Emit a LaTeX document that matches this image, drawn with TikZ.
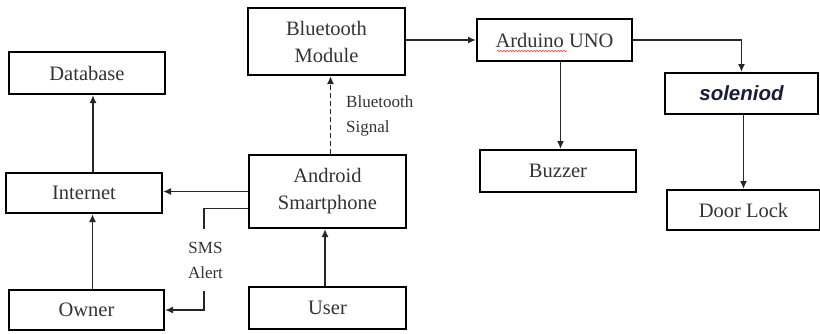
\documentclass[tikz,border=0pt]{standalone}
\usepackage{fontspec}
\setmainfont{Liberation Serif}
\newfontfamily\solfont{Liberation Sans}
\usetikzlibrary{arrows.meta,decorations.pathmorphing}
\begin{document}
\begin{tikzpicture}[x=1pt,y=1pt,
  box/.style={draw, line width=2pt, inner sep=0pt, align=center,
    font=\fontsize{20.5}{27}\selectfont, text=black!80},
  arr/.style={line width=1.7pt, -{Latex[length=8pt,width=7pt]}, black!85},
  lbl/.style={align=left, font=\fontsize{17}{25}\selectfont, text=black!80, inner sep=0pt}]
\useasboundingbox (0,0) rectangle (820,-333);
\node[box, minimum width=156pt, minimum height=42pt] (db) at (87,-73) {Database};
\node[box, minimum width=157pt, minimum height=67pt] (bt) at (326.5,-41.5) {Bluetooth\\Module};
\node[box, minimum width=155pt, minimum height=42pt] (ard) at (554.5,-40) {Arduino UNO};
\node[box, minimum width=153pt, minimum height=41pt] (sol) at (741.5,-93.5)
  {\solfont\bfseries\itshape\color[HTML]{1C1C3A}soleniod};
\node[box, minimum width=156pt, minimum height=42pt] (buz) at (558,-171) {Buzzer};
\node[box, minimum width=153pt, minimum height=40pt] (door) at (743.5,-210) {Door Lock};
\node[box, minimum width=156pt, minimum height=40pt] (inet) at (84,-193) {Internet};
\node[box, minimum width=157pt, minimum height=73pt] (and) at (327.5,-191.5) {Android\\Smartphone};
\node[box, minimum width=155pt, minimum height=40pt] (own) at (86.5,-310) {Owner};
\node[box, minimum width=157pt, minimum height=42pt] (user) at (327.5,-308) {User};
% spell-check underline
\coordinate (w1) at (497,-51);
\coordinate (w2) at (567,-51);
\draw[red!75, line width=0.6pt, decorate, decoration={snake, amplitude=0.8pt, segment length=3pt}] (w1) -- (w2);
% connectors
\draw[arr] (bt.east |- ard.west) -- (ard.west);
\draw[arr] (ard.east) -| (sol.north);
\draw[arr] ([xshift=6pt]ard.south) -- ([xshift=6pt]ard.south |- buz.north);
\draw[arr] (sol.south -| door.north) -- (door.north);
\draw[arr, dashed, dash pattern=on 5pt off 3pt] ([xshift=3pt]and.north) -- ([xshift=3pt]and.north |- bt.south);
\node[lbl, anchor=west] (bsig) at (346,-116) {Bluetooth\\Signal};
\draw[arr] (and.west) -- (and.west -| inet.east);
\draw[arr] ([yshift=-17pt]and.west) -- ++(-44,0) |- (own.east);
\node[lbl, align=center, fill=white, minimum height=62pt, minimum width=40pt] (sms) at (205.5,-260) {SMS\\Alert};
\draw[arr] ([xshift=6pt]own.north) -- ([xshift=6pt]own.north |- inet.south);
\draw[arr] ([xshift=9pt]inet.north) -- ([xshift=9pt]inet.north |- db.south);
\draw[arr] ([xshift=-2.5pt]user.north) -- ([xshift=-2.5pt]user.north |- and.south);
\end{tikzpicture}
\end{document}
